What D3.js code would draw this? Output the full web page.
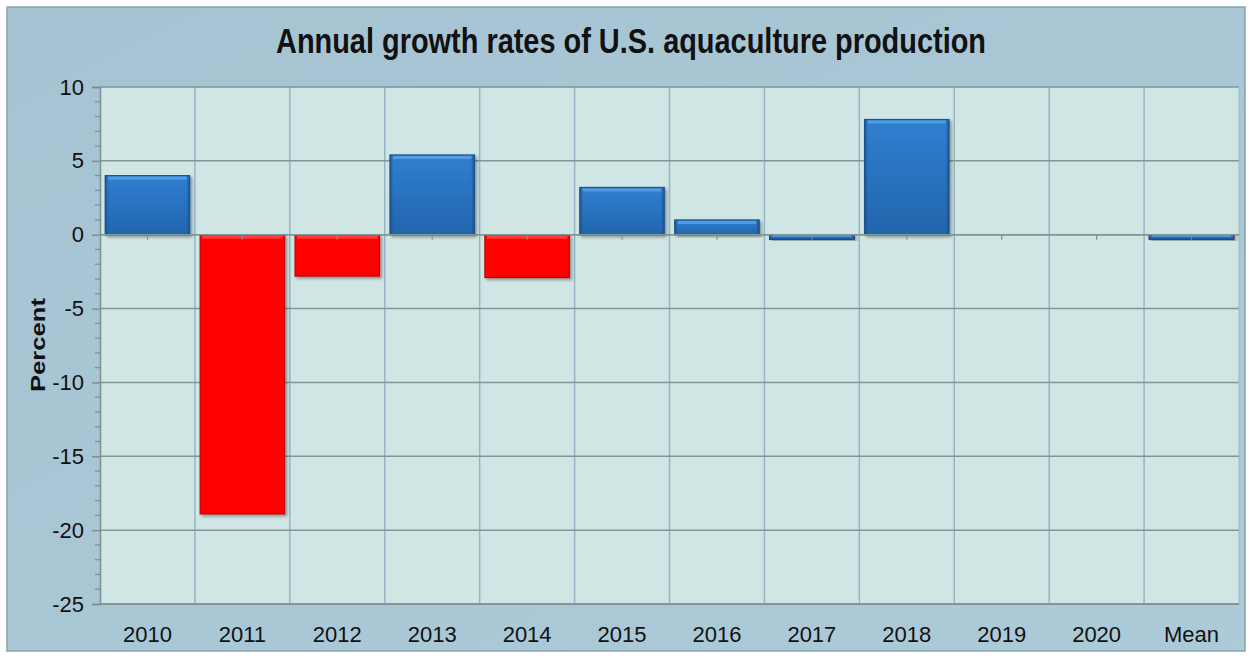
<!DOCTYPE html>
<html><head><meta charset="utf-8">
<script src="https://cdn.jsdelivr.net/npm/d3@7/dist/d3.min.js"></script>
<style>
body{margin:0;background:#fff;}
text{font-family:"Liberation Sans",Arial,sans-serif;}
</style></head><body>
<svg id="c" width="1252" height="656"></svg>
<script>
const categories = ["2010","2011","2012","2013","2014","2015","2016","2017","2018","2019","2020","Mean"];
const growth = [4.0, -18.9, -2.8, 5.4, -2.9, 3.2, 1.0, -0.3, 7.8, null, null, -0.3];
const yTicks = [10, 5, 0, -5, -10, -15, -20, -25];
const title = "Annual growth rates of U.S. aquaculture production";
const yLabel = "Percent";

const svg = d3.select("#c");
const W = 1252, H = 656;
const m = {l:100, r:13, t:87, b:52};
const pw = W - m.l - m.r, ph = H - m.t - m.b;

const defs = svg.append("defs");
const bg = defs.append("linearGradient").attr("id","bgG").attr("x1",0).attr("y1",0).attr("x2",1).attr("y2",1);
bg.append("stop").attr("offset","0%").attr("stop-color","#a6c3d3");
bg.append("stop").attr("offset","100%").attr("stop-color","#adcad8");
const blue = defs.append("linearGradient").attr("id","blueG").attr("x1",0).attr("y1",0).attr("x2",0).attr("y2",1);
blue.append("stop").attr("offset","0%").attr("stop-color","#2f7fd0");
blue.append("stop").attr("offset","100%").attr("stop-color","#2365ad");
const blueEdge = defs.append("linearGradient").attr("id","blueH").attr("x1",0).attr("y1",0).attr("x2",1).attr("y2",0);
blueEdge.append("stop").attr("offset","0%").attr("stop-color","#1b4f8c").attr("stop-opacity",0.9);
blueEdge.append("stop").attr("offset","4%").attr("stop-color","#1b4f8c").attr("stop-opacity",0);
blueEdge.append("stop").attr("offset","96%").attr("stop-color","#1b4f8c").attr("stop-opacity",0);
blueEdge.append("stop").attr("offset","100%").attr("stop-color","#1b4f8c").attr("stop-opacity",0.9);
const sh = defs.append("filter").attr("id","sh").attr("x","-10%").attr("y","-10%").attr("width","130%").attr("height","130%");
sh.append("feDropShadow").attr("dx",2).attr("dy",2).attr("stdDeviation",1.5).attr("flood-color","#000").attr("flood-opacity",0.35);

// outer frame
svg.append("rect").attr("x",7).attr("y",7).attr("width",W-14).attr("height",H-12)
  .attr("fill","url(#bgG)").attr("stroke","#8aa3ad").attr("stroke-width",1.5);

// plot area
svg.append("rect").attr("x",m.l).attr("y",m.t).attr("width",pw).attr("height",ph)
  .attr("fill","#d0e6e5");

const x = d3.scaleBand().domain(categories).range([m.l, m.l+pw]).paddingInner(0.11).paddingOuter(0.055);
const y = d3.scaleLinear().domain([-25,10]).range([m.t+ph, m.t]);

// vertical gridlines at band boundaries
const bounds = d3.range(1, categories.length).map(i => m.l + i*pw/categories.length);
svg.append("g").selectAll("line").data(bounds).join("line")
  .attr("x1",d=>d).attr("x2",d=>d).attr("y1",m.t).attr("y2",m.t+ph)
  .attr("stroke","#97b4c4").attr("stroke-width",1.5);

// horizontal gridlines
svg.append("g").selectAll("line").data(yTicks).join("line")
  .attr("x1",m.l).attr("x2",m.l+pw).attr("y1",d=>y(d)).attr("y2",d=>y(d))
  .attr("stroke","#7d9797").attr("stroke-width",1.5);

// plot border right
svg.append("line").attr("x1",m.l+pw).attr("x2",m.l+pw).attr("y1",m.t).attr("y2",m.t+ph)
  .attr("stroke","#9fb9c2").attr("stroke-width",1);

// y axis
const yAxis = d3.axisLeft(y).tickValues(yTicks).tickSize(8).tickPadding(8).tickFormat(d=>String(d));
const ya = svg.append("g").attr("transform",`translate(${m.l},0)`).call(yAxis);
ya.select(".domain").attr("stroke","#7d9090").attr("stroke-width",1.5);
ya.selectAll(".tick line").attr("stroke","#7d9090").attr("stroke-width",1.5);
ya.selectAll(".tick text").attr("font-size",22).attr("fill","#111")
  .style("font-family","'Liberation Sans',Arial,sans-serif");
// minor ticks
const minor = d3.range(-25, 11).filter(v => v % 5 !== 0);
svg.append("g").selectAll("line").data(minor).join("line")
  .attr("x1",m.l-5).attr("x2",m.l).attr("y1",d=>y(d)).attr("y2",d=>y(d))
  .attr("stroke","#7d9090").attr("stroke-width",1.2);

// bars
const data = categories.map((c,i)=>({c, v:growth[i]})).filter(d=>d.v!==null);
const bars = svg.append("g");
bars.selectAll("rect.bar").data(data).join("rect").attr("class","bar")
  .attr("x",d=>x(d.c)).attr("width",x.bandwidth())
  .attr("y",d=>Math.min(y(d.v),y(0))).attr("height",d=>Math.abs(y(d.v)-y(0)))
  .attr("fill",d=>d.v>=0?"url(#blueG)":"#ff0000")
  .attr("stroke",d=>d.v>=0?"#1d548f":"#c80000").attr("stroke-width",1.2)
  .attr("filter","url(#sh)");
// blue bevels
bars.selectAll("rect.edge").data(data.filter(d=>d.v>=0)).join("rect").attr("class","edge")
  .attr("x",d=>x(d.c)).attr("width",x.bandwidth())
  .attr("y",d=>y(d.v)).attr("height",d=>y(0)-y(d.v))
  .attr("fill","url(#blueH)");
bars.selectAll("rect.hl").data(data.filter(d=>d.v>=0)).join("rect").attr("class","hl")
  .attr("x",d=>x(d.c)+3).attr("width",x.bandwidth()-6)
  .attr("y",d=>y(d.v)+1).attr("height",3)
  .attr("fill","#5fa3e6").attr("opacity",0.8);
// small negative bars (2017, Mean) drawn blue
bars.selectAll("rect.neg").data(data.filter(d=>d.v<0 && d.v>-1)).join("rect").attr("class","neg")
  .attr("x",d=>x(d.c)).attr("width",x.bandwidth())
  .attr("y",y(0)).attr("height",d=>y(d.v)-y(0))
  .attr("fill","#2a6fbd").attr("stroke","#17457e").attr("stroke-width",1.2);
bars.selectAll("rect.neghl").data(data.filter(d=>d.v<0 && d.v>-1)).join("rect").attr("class","neghl")
  .attr("x",d=>x(d.c)+3).attr("width",x.bandwidth()-6)
  .attr("y",y(0)+0.5).attr("height",1.5)
  .attr("fill","#5fa3e6");
// red highlights
bars.selectAll("rect.rhl").data(data.filter(d=>d.v<=-1)).join("rect").attr("class","rhl")
  .attr("x",d=>x(d.c)+2).attr("width",x.bandwidth()-4)
  .attr("y",y(0)+1).attr("height",3)
  .attr("fill","#ff3b3b");

// zero line ticks at category centres
svg.append("line").attr("x1",m.l).attr("x2",m.l+pw).attr("y1",y(0)).attr("y2",y(0))
  .attr("stroke","#7d9797").attr("stroke-width",1.5);
svg.append("g").selectAll("line").data(categories).join("line")
  .attr("x1",d=>x(d)+x.bandwidth()/2).attr("x2",d=>x(d)+x.bandwidth()/2)
  .attr("y1",y(0)).attr("y2",y(0)+5)
  .attr("stroke","#7d9090").attr("stroke-width",1.2);

// bottom axis line
svg.append("line").attr("x1",m.l).attr("x2",m.l+pw).attr("y1",m.t+ph).attr("y2",m.t+ph)
  .attr("stroke","#7d9090").attr("stroke-width",1.5);

// x labels
svg.append("g").selectAll("text").data(categories).join("text")
  .attr("x",d=>x(d)+x.bandwidth()/2).attr("y",m.t+ph+38)
  .attr("text-anchor","middle").attr("font-size",22).attr("fill","#111")
  .text(d=>d);

// title
svg.append("text").attr("x",631).attr("y",53).attr("text-anchor","middle")
  .attr("font-size",35).attr("font-weight","bold").attr("fill","#111")
  .attr("textLength",710).attr("lengthAdjust","spacingAndGlyphs").text(title);

// y label
svg.append("text").attr("transform",`translate(45,345) rotate(-90)`).attr("text-anchor","middle")
  .attr("font-size",21).attr("font-weight","bold").attr("fill","#111")
  .attr("textLength",94).attr("lengthAdjust","spacingAndGlyphs").text(yLabel);
</script></body></html>
